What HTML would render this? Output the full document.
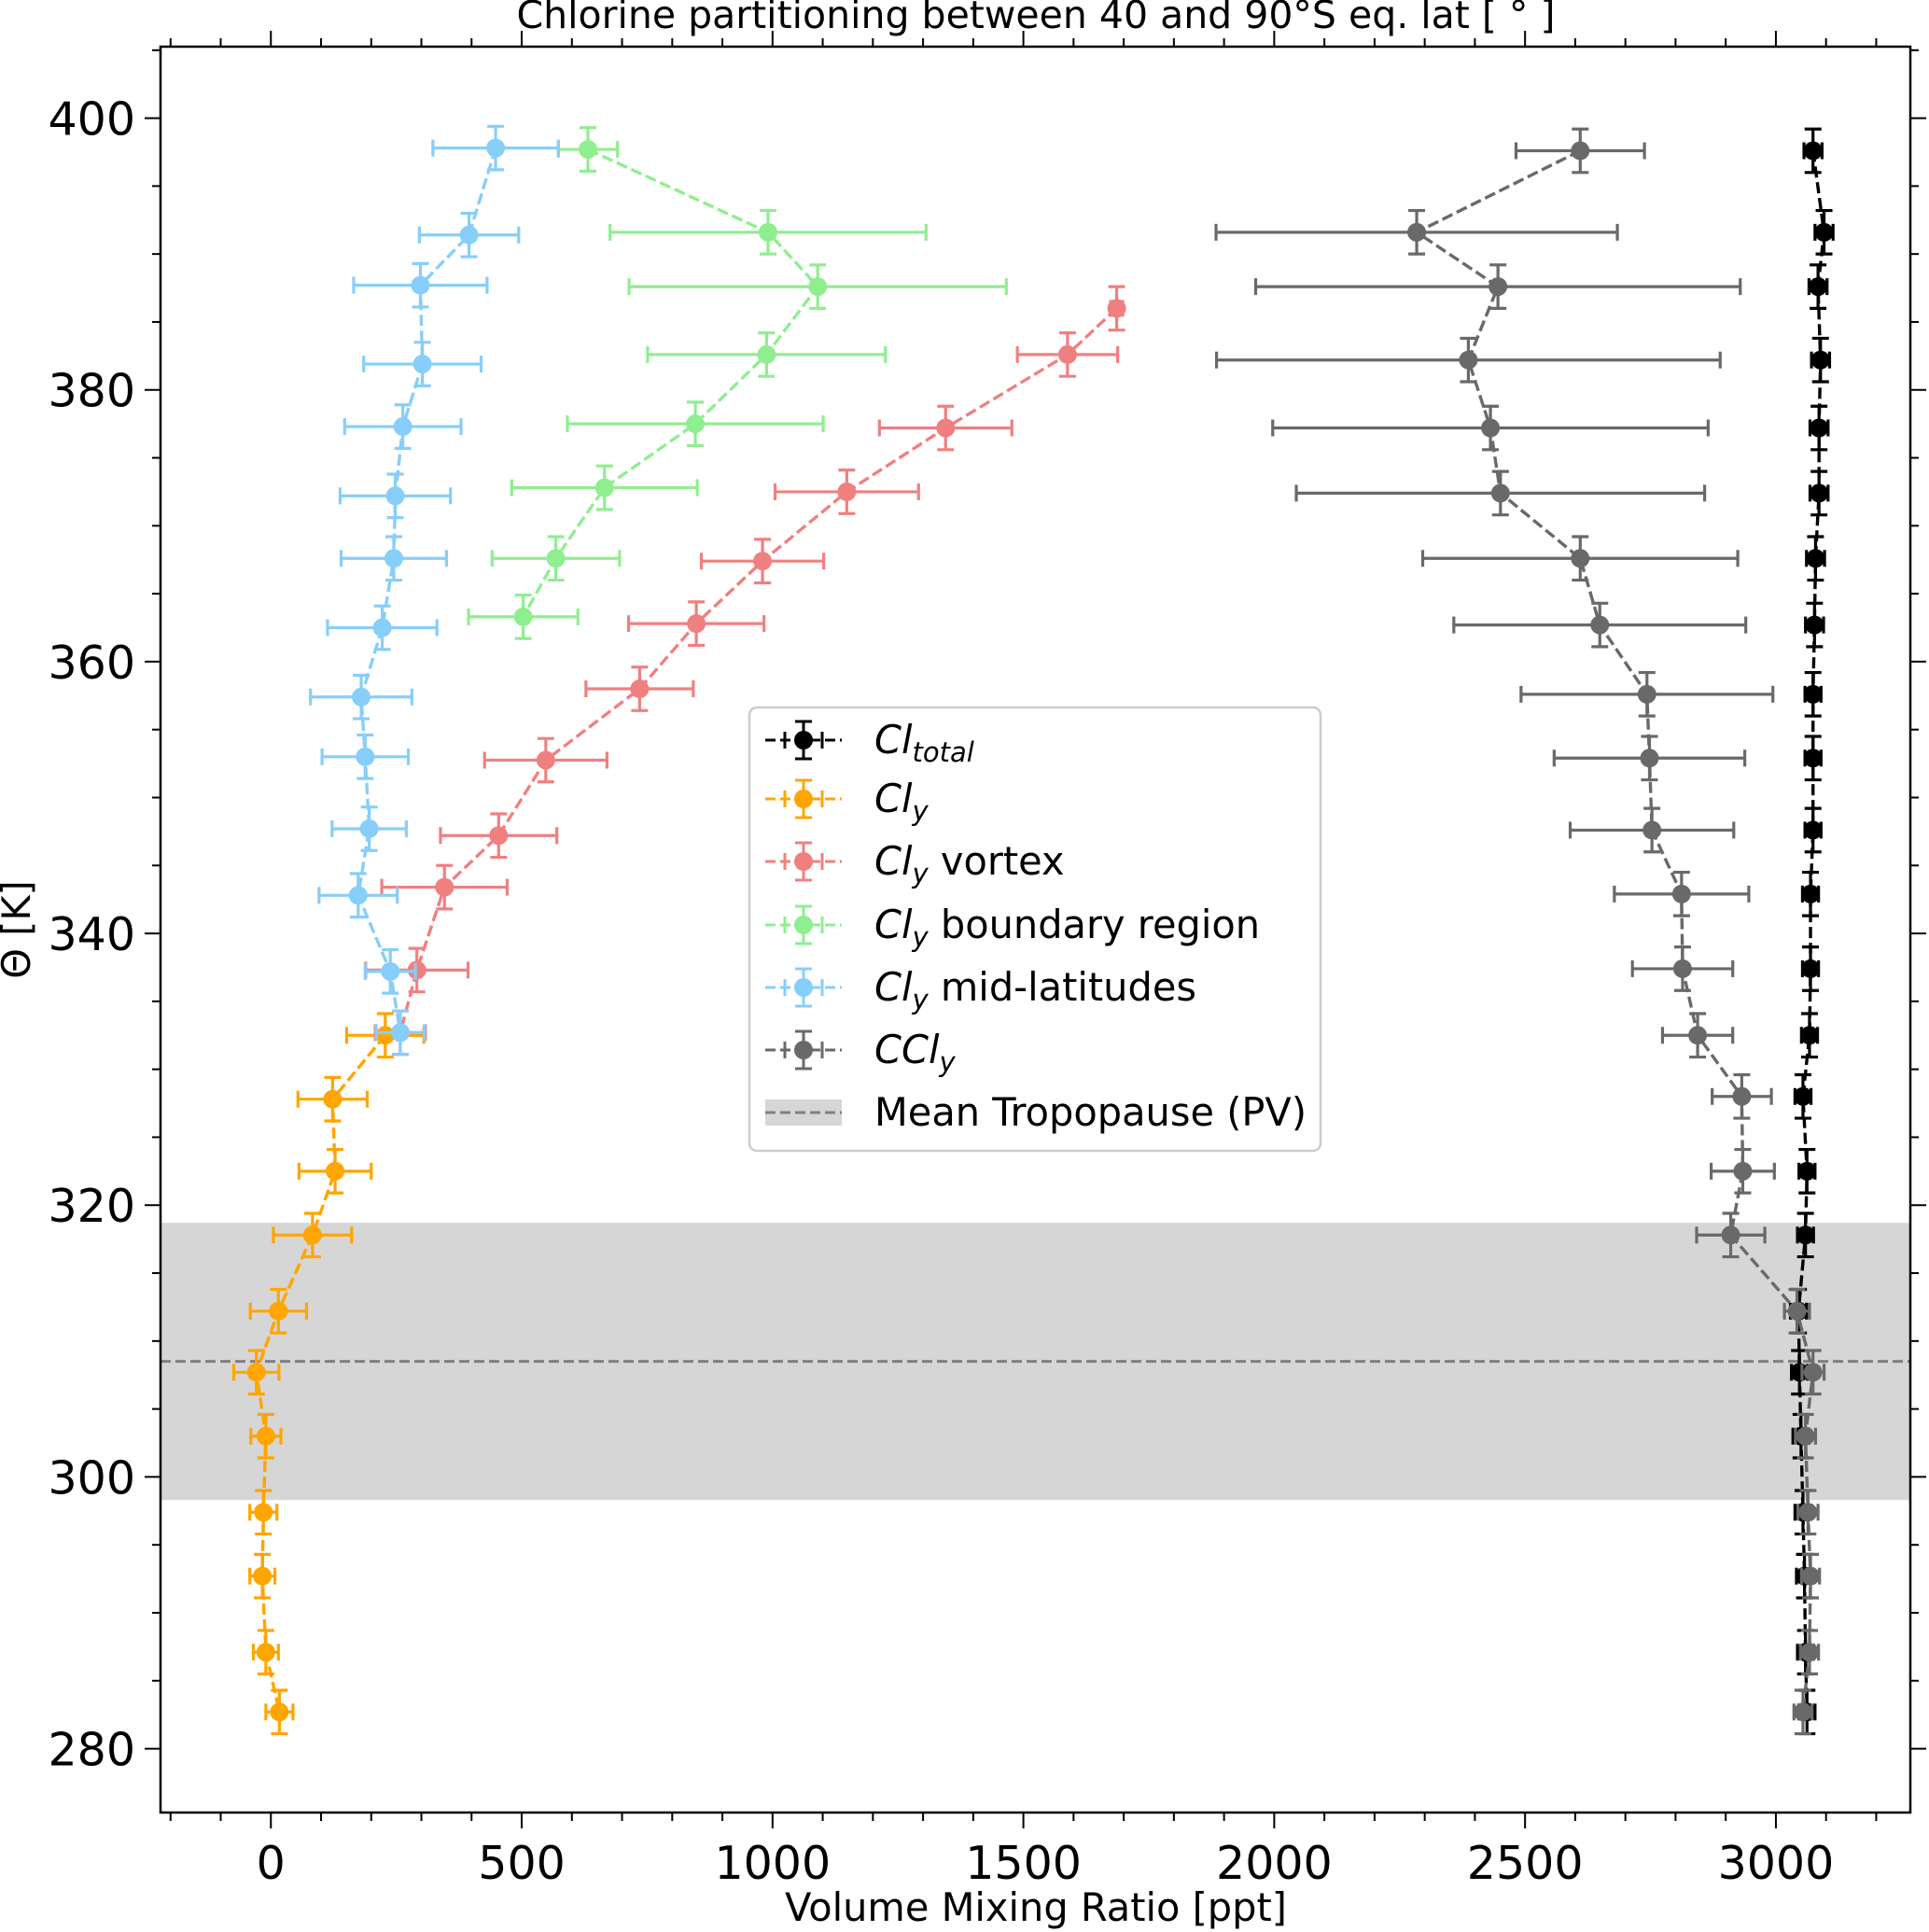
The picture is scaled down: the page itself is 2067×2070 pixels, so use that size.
<!DOCTYPE html>
<html><head><meta charset="utf-8"><style>
body{margin:0;background:#fff}
svg{display:block;font-family:"DejaVu Sans","Liberation Sans",sans-serif}
</style></head><body>
<svg id="chart" width="2067" height="2070" viewBox="0 0 2067 2070" xmlns="http://www.w3.org/2000/svg"></svg>
<script>
const thetaFull=[397.6,391.6,387.6,382.2,377.2,372.4,367.6,362.7,357.6,352.9,347.6,342.9,337.4,332.5,328.0,322.5,317.8,312.2,307.7,303.0,297.4,292.7,287.1,282.7];
const clTotal=[3074,3096,3084,3089,3086,3086,3079,3077,3074,3074,3074,3069,3069,3067,3054,3062,3059,3045,3047,3050,3054,3057,3059,3062];
const clTotalErr=[18,18,18,18,18,18,18,18,16,16,16,16,16,16,16,16,16,16,16,16,16,16,16,16];
const ccly=[2610,2284,2446,2387,2431,2451,2610,2649,2743,2748,2753,2812,2814,2844,2932,2934,2910,3042,3074,3059,3064,3069,3067,3054];
const cclyErr=[128,400,483,502,434,407,314,291,251,190,163,134,100,70,59,63,68,25,22,20,20,18,18,18];
const clyTheta=[332.5,327.8,322.5,317.8,312.2,307.7,303.0,297.4,292.7,287.1,282.7];
const cly=[228,123,128,83,15,-29,-10,-15,-17,-10,17];
const clyErr=[77,69,72,78,56,45,30,27,25,25,27];
const vortexTheta=[386.0,382.6,377.2,372.5,367.4,362.8,358.0,352.75,347.2,343.4,337.3,332.7];
const vortex=[1686,1588,1345,1148,980,848,735,548,454,346,291,258];
const vortexErr=[12,100,132,143,122,135,107,122,116,125,102,50];
const boundaryTheta=[397.7,391.6,387.6,382.6,377.5,372.8,367.6,363.3];
const boundary=[632,991,1090,988,846,665,568,503];
const boundaryErr=[59,315,376,237,255,185,127,109];
const midTheta=[397.8,391.4,387.7,381.9,377.3,372.2,367.6,362.5,357.4,353.0,347.7,342.8,337.2,332.7];
const mid=[448,395,298,302,263,248,245,222,180,188,196,174,238,258];
const midErr=[125,99,133,117,116,110,105,109,101,86,74,78,50,48];
const xTicks=[0,500,1000,1500,2000,2500,3000];
const yTicks=[280,300,320,340,360,380,400];
const bandLow=298.3, bandHigh=318.7, tropopause=308.5;

const L=172,R=2047,T=50,B=1942;
const xMin=-220,xMax=3268,yMin=275.3,yMax=405.26;
const X=v=>L+(v-xMin)/(xMax-xMin)*(R-L);
const Y=v=>B-(v-yMin)/(yMax-yMin)*(B-T);
const svg=document.getElementById('chart');
const NS='http://www.w3.org/2000/svg';
function mk(tag,attrs,parent){const e=document.createElementNS(NS,tag);for(const k in attrs)e.setAttribute(k,attrs[k]);(parent||svg).appendChild(e);return e;}

const band=mk('rect',{x:L,y:Y(bandHigh),width:R-L,height:Y(bandLow)-Y(bandHigh),fill:'#d6d6d6'});


const tl=mk('line',{x1:L,x2:R,y1:Y(tropopause),y2:Y(tropopause),stroke:'#808080','stroke-width':3,'stroke-dasharray':'11,5'});



function series(name,color,th,vals,errs,yerr){
  const g=mk('g',{});
  
  
  const pts=vals.map((v,i)=>X(v)+','+Y(th[i])).join(' ');
  mk('polyline',{points:pts,fill:'none',stroke:color,'stroke-width':3.4,'stroke-dasharray':'12,5'},g);
  vals.forEach((v,i)=>{
    const cx=X(v),cy=Y(th[i]),x1=X(v-errs[i]),x2=X(v+errs[i]),y1=Y(th[i]+yerr),y2=Y(th[i]-yerr);
    const eg=mk('g',{stroke:color,'stroke-width':3.2,fill:color},g);
    
    
    mk('line',{x1:x1,x2:x2,y1:cy,y2:cy},eg);
    mk('line',{x1:x1,x2:x1,y1:cy-9,y2:cy+9},eg);
    mk('line',{x1:x2,x2:x2,y1:cy-9,y2:cy+9},eg);
    mk('line',{x1:cx,x2:cx,y1:y1,y2:y2},eg);
    mk('line',{x1:cx-9,x2:cx+9,y1:y1,y2:y1},eg);
    mk('line',{x1:cx-9,x2:cx+9,y1:y2,y2:y2},eg);
    mk('circle',{cx:cx,cy:cy,r:10,stroke:'none'},eg);
  });
}
series('cl-total-series','#000000',thetaFull,clTotal,clTotalErr,1.6);
series('cly-series','#FFA500',clyTheta,cly,clyErr,1.6);
series('cly-vortex-series','#F08080',vortexTheta,vortex,vortexErr,1.6);
series('cly-boundary-series','#90EE90',boundaryTheta,boundary,boundaryErr,1.6);
series('cly-midlat-series','#87CEFA',midTheta,mid,midErr,1.6);
series('ccly-series','#696969',thetaFull,ccly,cclyErr,1.6);

const fr=mk('rect',{x:L,y:T,width:R-L,height:B-T,fill:'none',stroke:'#000','stroke-width':2.5});



for(let v=-200;v<=3200;v+=100){
  const x=X(v),maj=v%500===0,len=maj?17:9;
  mk('line',{x1:x,x2:x,y1:B,y2:B+len,stroke:'#000','stroke-width':2});
  mk('line',{x1:x,x2:x,y1:T,y2:T-len,stroke:'#000','stroke-width':2});
}
for(let v=280;v<=405;v+=5){
  const y=Y(v),maj=v%20===0,len=maj?17:9;
  mk('line',{x1:L,x2:L-len,y1:y,y2:y,stroke:'#000','stroke-width':2});
  mk('line',{x1:R,x2:R+len,y1:y,y2:y,stroke:'#000','stroke-width':2});
}
xTicks.forEach(v=>{
  const t=mk('text',{x:X(v),y:B+71,'font-size':49,'text-anchor':'middle'});
  t.textContent=v;
  
  
});
yTicks.forEach(v=>{
  const t=mk('text',{x:L-27,y:Y(v)+18,'font-size':49,'text-anchor':'end'});
  t.textContent=v;
  
  
});
</script>
<svg style="position:absolute;left:0;top:0" width="2067" height="2070" xmlns="http://www.w3.org/2000/svg" font-family="DejaVu Sans, Liberation Sans, sans-serif">
<text x="1110" y="30" font-size="41" text-anchor="middle">Chlorine partitioning between 40 and 90°S eq. lat [ ° ]</text>
<text x="1110" y="2058" font-size="41.5" text-anchor="middle">Volume Mixing Ratio [ppt]</text>
<text x="0" y="0" font-size="41.5" text-anchor="middle" transform="translate(32,996) rotate(-90)">Θ [K]</text>
<g>
<rect x="803" y="758" width="612" height="475" rx="8" fill="#fff" fill-opacity="0.8" stroke="#cccccc" stroke-width="2.5"/>
<g stroke-width="3">
 <g stroke="#000" fill="#000"><line x1="820" x2="902" y1="793" y2="793" stroke-dasharray="11,5"/><line x1="861" x2="861" y1="773" y2="813"/><line x1="852" x2="870" y1="773" y2="773"/><line x1="852" x2="870" y1="813" y2="813"/><line x1="841" x2="841" y1="784" y2="802"/><line x1="881" x2="881" y1="784" y2="802"/><circle cx="861" cy="793" r="10" stroke="none"/></g>
 <text x="937" y="807" font-size="41.5" font-style="italic">Cl<tspan font-size="29" dy="9">total</tspan></text>
</g>
<g stroke-width="3">
 <g stroke="#FFA500" fill="#FFA500"><line x1="820" x2="902" y1="856" y2="856" stroke-dasharray="11,5"/><line x1="861" x2="861" y1="836" y2="876"/><line x1="852" x2="870" y1="836" y2="836"/><line x1="852" x2="870" y1="876" y2="876"/><line x1="841" x2="841" y1="847" y2="865"/><line x1="881" x2="881" y1="847" y2="865"/><circle cx="861" cy="856" r="10" stroke="none"/></g>
 <text x="937" y="870" font-size="41.5"><tspan font-style="italic">Cl</tspan><tspan font-style="italic" font-size="29" dy="9">y</tspan></text>
</g>
<g stroke-width="3">
 <g stroke="#F08080" fill="#F08080"><line x1="820" x2="902" y1="923" y2="923" stroke-dasharray="11,5"/><line x1="861" x2="861" y1="903" y2="943"/><line x1="852" x2="870" y1="903" y2="903"/><line x1="852" x2="870" y1="943" y2="943"/><line x1="841" x2="841" y1="914" y2="932"/><line x1="881" x2="881" y1="914" y2="932"/><circle cx="861" cy="923" r="10" stroke="none"/></g>
 <text x="937" y="937" font-size="41.5"><tspan font-style="italic">Cl</tspan><tspan font-style="italic" font-size="29" dy="9">y</tspan><tspan dy="-9"> vortex</tspan></text>
</g>
<g stroke-width="3">
 <g stroke="#90EE90" fill="#90EE90"><line x1="820" x2="902" y1="991" y2="991" stroke-dasharray="11,5"/><line x1="861" x2="861" y1="971" y2="1011"/><line x1="852" x2="870" y1="971" y2="971"/><line x1="852" x2="870" y1="1011" y2="1011"/><line x1="841" x2="841" y1="982" y2="1000"/><line x1="881" x2="881" y1="982" y2="1000"/><circle cx="861" cy="991" r="10" stroke="none"/></g>
 <text x="937" y="1005" font-size="41.5"><tspan font-style="italic">Cl</tspan><tspan font-style="italic" font-size="29" dy="9">y</tspan><tspan dy="-9"> boundary region</tspan></text>
</g>
<g stroke-width="3">
 <g stroke="#87CEFA" fill="#87CEFA"><line x1="820" x2="902" y1="1058" y2="1058" stroke-dasharray="11,5"/><line x1="861" x2="861" y1="1038" y2="1078"/><line x1="852" x2="870" y1="1038" y2="1038"/><line x1="852" x2="870" y1="1078" y2="1078"/><line x1="841" x2="841" y1="1049" y2="1067"/><line x1="881" x2="881" y1="1049" y2="1067"/><circle cx="861" cy="1058" r="10" stroke="none"/></g>
 <text x="937" y="1072" font-size="41.5"><tspan font-style="italic">Cl</tspan><tspan font-style="italic" font-size="29" dy="9">y</tspan><tspan dy="-9"> mid-latitudes</tspan></text>
</g>
<g stroke-width="3">
 <g stroke="#696969" fill="#696969"><line x1="820" x2="902" y1="1125" y2="1125" stroke-dasharray="11,5"/><line x1="861" x2="861" y1="1105" y2="1145"/><line x1="852" x2="870" y1="1105" y2="1105"/><line x1="852" x2="870" y1="1145" y2="1145"/><line x1="841" x2="841" y1="1116" y2="1134"/><line x1="881" x2="881" y1="1116" y2="1134"/><circle cx="861" cy="1125" r="10" stroke="none"/></g>
 <text x="937" y="1139" font-size="41.5"><tspan font-style="italic">CCl</tspan><tspan font-style="italic" font-size="29" dy="9">y</tspan></text>
</g>
<g>
 <rect x="820" y="1178" width="82" height="28" fill="#d6d6d6"/>
 <line x1="820" x2="902" y1="1192" y2="1192" stroke="#808080" stroke-width="3" stroke-dasharray="11,5"/>
 <text x="937" y="1206" font-size="41.5">Mean Tropopause (PV)</text>
</g>
</g>
</svg>
</body></html>
